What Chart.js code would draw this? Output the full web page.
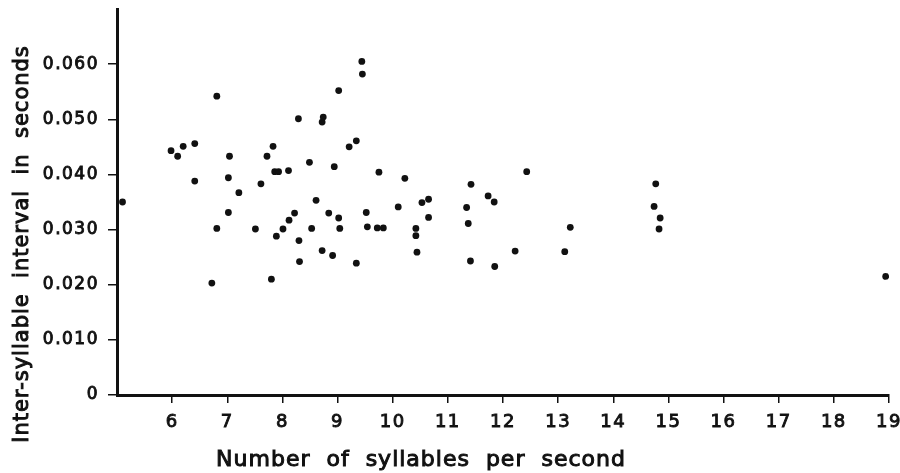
<!DOCTYPE html>
<html>
<head>
<meta charset="utf-8">
<script src="https://cdn.jsdelivr.net/npm/chart.js"></script>
<style>
  body { margin: 0; background: #fff; }
  #wrap { width: 900px; height: 473px; }
</style>
</head>
<body>
<div id="wrap"><canvas id="syllableChart" width="900" height="473"></canvas></div>
<script>
// syllables per second (x) and inter-syllable interval in seconds (y)
var rate = [
  5.10, 5.98, 6.10, 6.20, 6.41, 6.41, 6.72, 6.81, 6.81, 7.04,
  7.02, 7.02, 7.21, 7.51, 7.61, 7.72, 7.80, 7.83, 7.86, 7.93,
  7.89, 8.01, 8.11, 8.12, 8.22, 8.29, 8.30, 8.31, 8.49, 8.53,
  8.61, 8.72, 8.74, 8.72, 8.84, 8.91, 8.94, 9.02, 9.02, 9.04,
  9.21, 9.34, 9.34, 9.44, 9.45, 9.52, 9.54, 9.75, 9.72, 9.83,
  10.10, 10.22, 10.42, 10.42, 10.44, 10.53, 10.65, 10.65, 11.34, 11.37,
  11.41, 11.42, 11.73, 11.84, 11.85, 12.22, 12.43, 13.12, 13.22, 14.74,
  14.77, 14.83, 14.85, 18.94
];
var interval = [
  0.0350, 0.0443, 0.0433, 0.0451, 0.0456, 0.0388, 0.0203, 0.0542, 0.0302, 0.0433,
  0.0394, 0.0331, 0.0367, 0.0301, 0.0383, 0.0433, 0.0210, 0.0451, 0.0405, 0.0405,
  0.0288, 0.0301, 0.0407, 0.0317, 0.0330, 0.0501, 0.0280, 0.0242, 0.0422, 0.0302,
  0.0353, 0.0495, 0.0504, 0.0262, 0.0330, 0.0253, 0.0414, 0.0552, 0.0321, 0.0302,
  0.0450, 0.0461, 0.0239, 0.0605, 0.0582, 0.0331, 0.0305, 0.0404, 0.0303, 0.0303,
  0.0341, 0.0393, 0.0302, 0.0289, 0.0259, 0.0349, 0.0355, 0.0322, 0.0340, 0.0311,
  0.0243, 0.0382, 0.0361, 0.0350, 0.0233, 0.0261, 0.0405, 0.0260, 0.0304, 0.0342,
  0.0383, 0.0301, 0.0321, 0.0215
];
var xTicks = [6, 7, 8, 9, 10, 11, 12, 13, 14, 15, 16, 17, 18, 19];
var yTicks = [0, 0.010, 0.020, 0.030, 0.040, 0.050, 0.060];
var xTitle = 'Number  of  syllables  per  second';
var yTitle = 'Inter-syllable  interval  in  seconds';

var points = rate.map(function (r, i) { return { x: r, y: interval[i] }; });

var ink = '#111';
var spacing = {
  id: 'spacing',
  beforeLayout: function (chart) { chart.ctx.letterSpacing = '1.5px'; },
  beforeDraw: function (chart) { chart.ctx.letterSpacing = '1.5px'; }
};
// axis titles sit off-centre in the original, so they are drawn here
var titles = {
  id: 'titles',
  afterDraw: function (chart) {
    var c = chart.ctx;
    c.save();
    c.fillStyle = ink;
    c.strokeStyle = ink;
    c.lineWidth = 1;
    c.textAlign = 'center';
    c.textBaseline = 'middle';
    c.letterSpacing = '1px';
    c.font = '22px "DejaVu Sans"';
    c.fillText(xTitle, 421, 460);
    c.strokeText(xTitle, 421, 460);
    c.font = '21px "DejaVu Sans"';
    c.translate(23, 244);
    c.rotate(-Math.PI / 2);
    c.fillText(yTitle, 0, 0);
    c.strokeText(yTitle, 0, 0);
    c.restore();
  }
};

var ctx = document.getElementById('syllableChart').getContext('2d');
var myChart = new Chart(ctx, {
  type: 'scatter',
  data: {
    datasets: [{
      data: points,
      backgroundColor: ink,
      borderWidth: 0,
      pointRadius: 3.4,
      pointHoverRadius: 3.4
    }]
  },
  options: {
    responsive: false,
    animation: false,
    layout: { padding: { top: 9, right: 11, left: 0, bottom: 0 } },
    plugins: { legend: { display: false }, tooltip: { enabled: false } },
    scales: {
      x: {
        type: 'linear',
        min: 5,
        max: 19,
        afterBuildTicks: function (s) { s.ticks = xTicks.map(function (v) { return { value: v }; }); },
        afterFit: function (s) { s.height = 78; s.paddingLeft = 0; s.paddingRight = 0; },
        ticks: {
          color: ink,
          font: { family: 'DejaVu Sans', size: 18 },
          textStrokeColor: ink,
          textStrokeWidth: 0.9,
          padding: 9,
          maxRotation: 0,
          autoSkip: false
        },
        grid: { drawOnChartArea: false, drawTicks: true, tickLength: 8, color: ink, lineWidth: 1.5 },
        border: { color: ink, width: 3 }
      },
      y: {
        min: 0,
        max: 0.07,
        afterBuildTicks: function (s) { s.ticks = yTicks.map(function (v) { return { value: v }; }); },
        afterFit: function (s) { s.width = 117; s.paddingTop = 0; s.paddingBottom = 0; },
        ticks: {
          color: ink,
          font: { family: 'DejaVu Sans', size: 17 },
          textStrokeColor: ink,
          textStrokeWidth: 0.9,
          padding: 9,
          callback: function (v) { return v === 0 ? '0' : v.toFixed(3); }
        },
        grid: { drawOnChartArea: false, drawTicks: true, tickLength: 9, color: ink, lineWidth: 1.5 },
        border: { color: ink, width: 3 }
      }
    }
  },
  plugins: [spacing, titles]
});
</script>
</body>
</html>
